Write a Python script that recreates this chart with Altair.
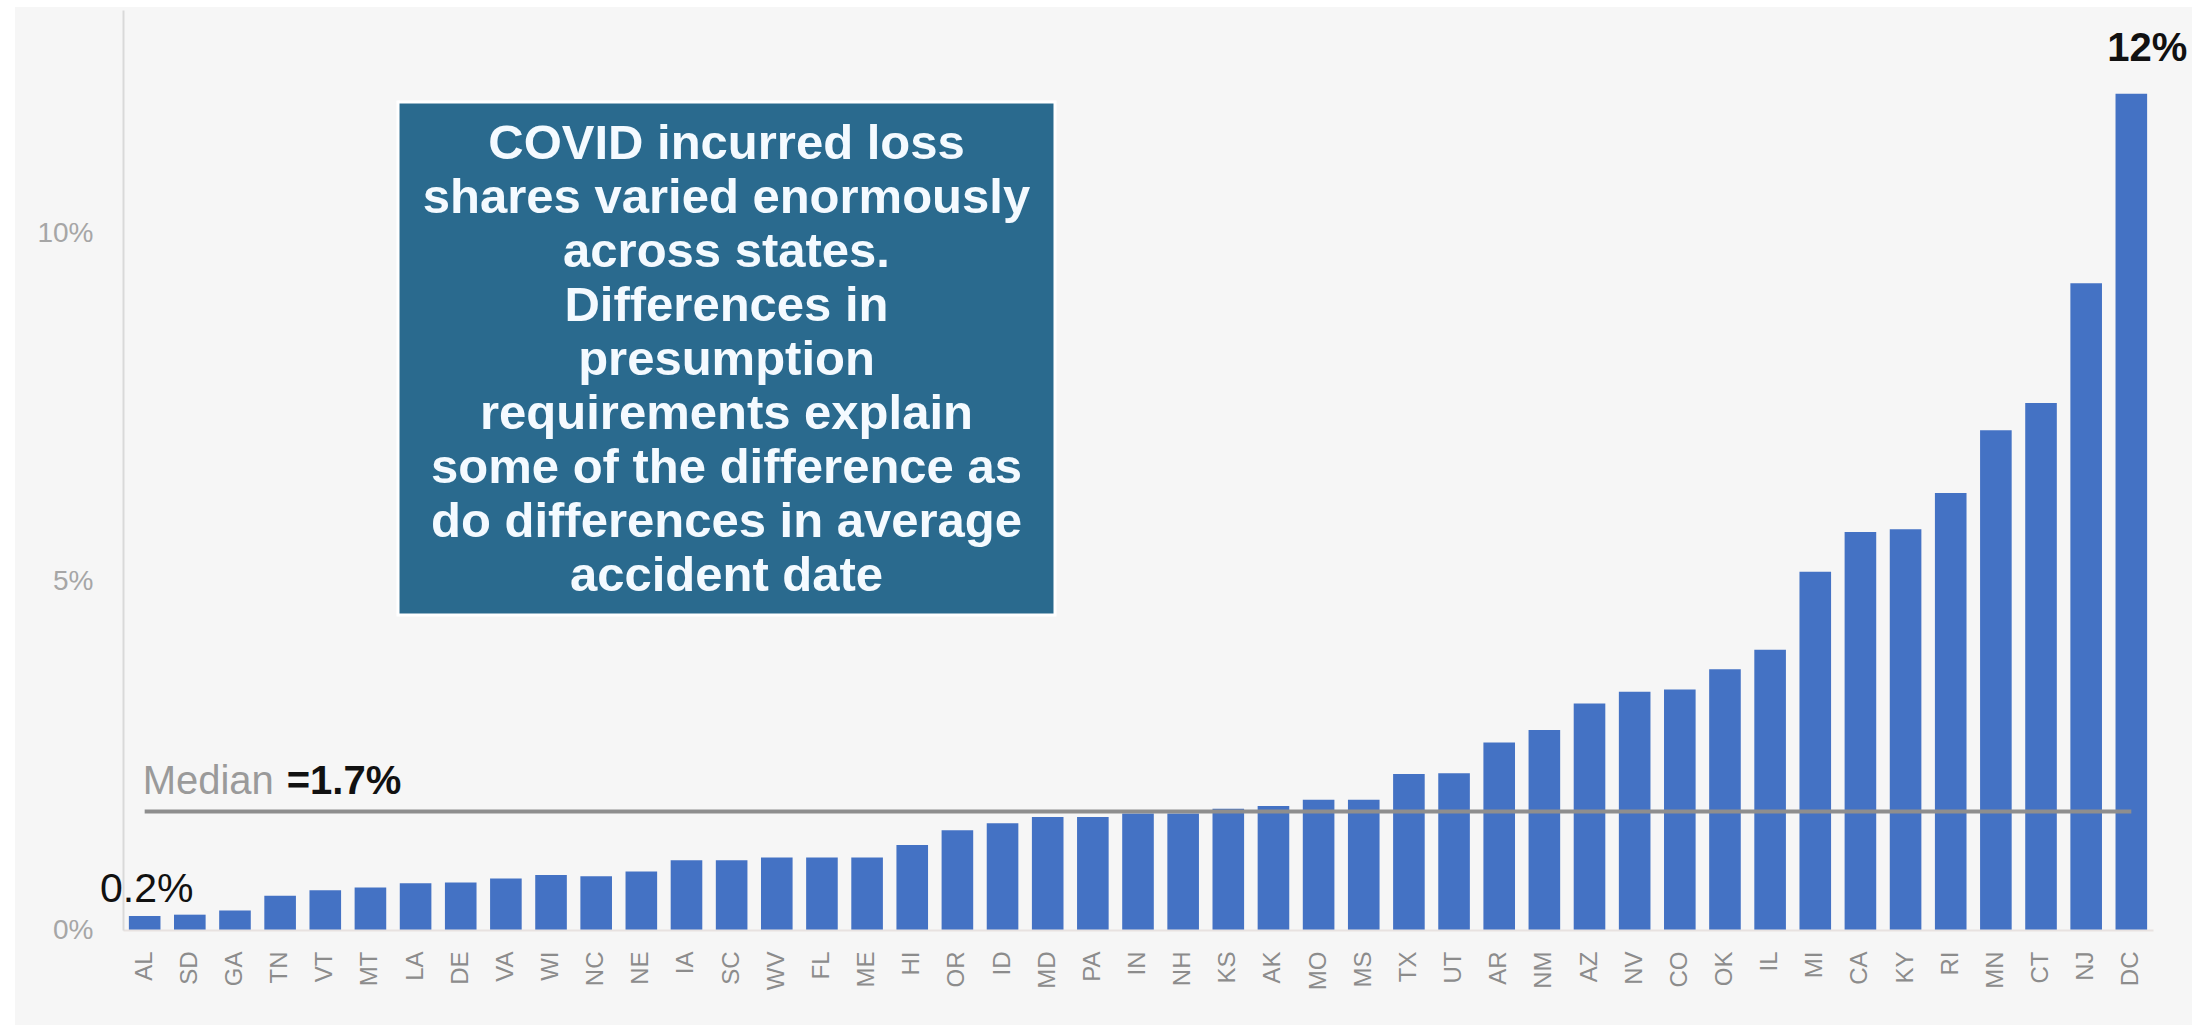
import altair as alt
import pandas as pd

# COVID incurred loss share by state, in percent, sorted ascending
states = ["AL", "SD", "GA", "TN", "VT", "MT", "LA", "DE", "VA", "WI", "NC", "NE",
          "IA", "SC", "WV", "FL", "ME", "HI", "OR", "ID", "MD", "PA", "IN", "NH",
          "KS", "AK", "MO", "MS", "TX", "UT", "AR", "NM", "AZ", "NV", "CO", "OK",
          "IL", "MI", "CA", "KY", "RI", "MN", "CT", "NJ", "DC"]
shares = [0.20, 0.22, 0.28, 0.49, 0.57, 0.61, 0.67, 0.68, 0.74, 0.79, 0.77, 0.84,
          1.00, 1.00, 1.04, 1.04, 1.04, 1.22, 1.43, 1.53, 1.62, 1.62, 1.67, 1.67,
          1.74, 1.78, 1.87, 1.87, 2.24, 2.25, 2.69, 2.87, 3.25, 3.42, 3.45, 3.74,
          4.02, 5.14, 5.71, 5.75, 6.27, 7.17, 7.56, 9.28, 12.0]
median_share = 1.7
y_ticks = [0, 5, 10]

note_lines = [
    "COVID incurred loss",
    "shares varied enormously",
    "across states.",
    "Differences  in",
    "presumption",
    "requirements explain",
    "some of the difference as",
    "do differences in average",
    "accident date",
]

df = pd.DataFrame({"state": states, "share": shares})
df["median"] = median_share

FONT = "Liberation Sans"
BAR = "#4472C4"

x_enc = alt.X(
    "state:N",
    sort=states,
    title=None,
    scale=alt.Scale(paddingInner=0.3, paddingOuter=0.13),
    axis=alt.Axis(
        labelAngle=270,
        labelFontSize=24,
        labelColor="#8C8C8C",
        labelPadding=21,
        ticks=False,
        domainColor="#E8E2E0",
        domainWidth=2,
        grid=False,
        zindex=1,
    ),
)
y_scale = alt.Scale(domain=[0, 13.2], nice=False)
y_enc = alt.Y(
    "share:Q",
    title=None,
    scale=y_scale,
    axis=alt.Axis(
        values=y_ticks,
        labelExpr="datum.value + '%'",
        labelFontSize=28,
        labelColor="#A6A6A6",
        labelPadding=30,
        ticks=False,
        domainColor="#D9D9D9",
        domainWidth=2,
        grid=False,
        zindex=1,
    ),
)

one = pd.DataFrame({"k": [0]})

# light panel behind the chart (white frame on the top and left edges)
panel = alt.Chart(one).mark_rect(color="#F6F6F6").encode(
    x=alt.value(-108), x2=alt.value(2069), y=alt.value(-3), y2=alt.value(1015)
)

bars = alt.Chart(df).mark_bar(color=BAR).encode(x=x_enc, y=y_enc)

median_line = alt.Chart(df).mark_line(color="#8E8E8E", strokeWidth=4).encode(
    x=alt.X("state:N", sort=states),
    y=alt.Y("median:Q", scale=y_scale),
)

first = df.iloc[[0]]
last = df.iloc[[-1]]

median_word = alt.Chart(first).mark_text(
    text="Median", font=FONT, fontSize=40, color="#9A9A9A",
    align="left", baseline="alphabetic", dx=-2, dy=-18,
).encode(x=alt.X("state:N", sort=states), y=alt.Y("median:Q", scale=y_scale))

median_value = alt.Chart(first).mark_text(
    text=f"={median_share}%", font=FONT, fontSize=40, fontWeight="bold",
    color="#111111", align="left", baseline="alphabetic", dx=142, dy=-18,
).encode(x=alt.X("state:N", sort=states), y=alt.Y("median:Q", scale=y_scale))

low_label = alt.Chart(first).mark_text(
    text=f"{shares[0]:.1f}%", font=FONT, fontSize=41, color="#111111",
    align="center", baseline="alphabetic", dx=2, dy=-14,
).encode(x=alt.X("state:N", sort=states), y=alt.Y("share:Q", scale=y_scale))

high_label = alt.Chart(last).mark_text(
    text=f"{shares[-1]:.0f}%", font=FONT, fontSize=40, fontWeight="bold",
    color="#111111", align="center", baseline="alphabetic", dx=16, dy=-33,
).encode(x=alt.X("state:N", sort=states), y=alt.Y("share:Q", scale=y_scale))

note_box = alt.Chart(one).mark_rect(
    color="#2A6A8E", stroke="#FFFFFF", strokeWidth=3
).encode(x=alt.value(275), x2=alt.value(932), y=alt.value(92), y2=alt.value(605))

# first line is placed at y; the following lines flow downward
note_text = alt.Chart(one).mark_text(
    text=note_lines, font=FONT, fontSize=49, fontWeight="bold", color="#F4FAFF",
    align="center", baseline="middle", lineHeight=54,
).encode(x=alt.value(603.5), y=alt.value(134))

chart = alt.layer(
    panel, bars, median_line, median_word, median_value,
    low_label, high_label, note_box, note_text,
).properties(
    width=2030,
    height=920,
    autosize=alt.AutoSizeParams(type="none"),
    padding={"left": 123, "top": 10, "right": 39, "bottom": 95},
    background="#FFFFFF",
).configure(
    font=FONT,
).configure_view(
    stroke="transparent",
)

chart.save("out.html", embed_options={"renderer": "svg", "actions": False})
